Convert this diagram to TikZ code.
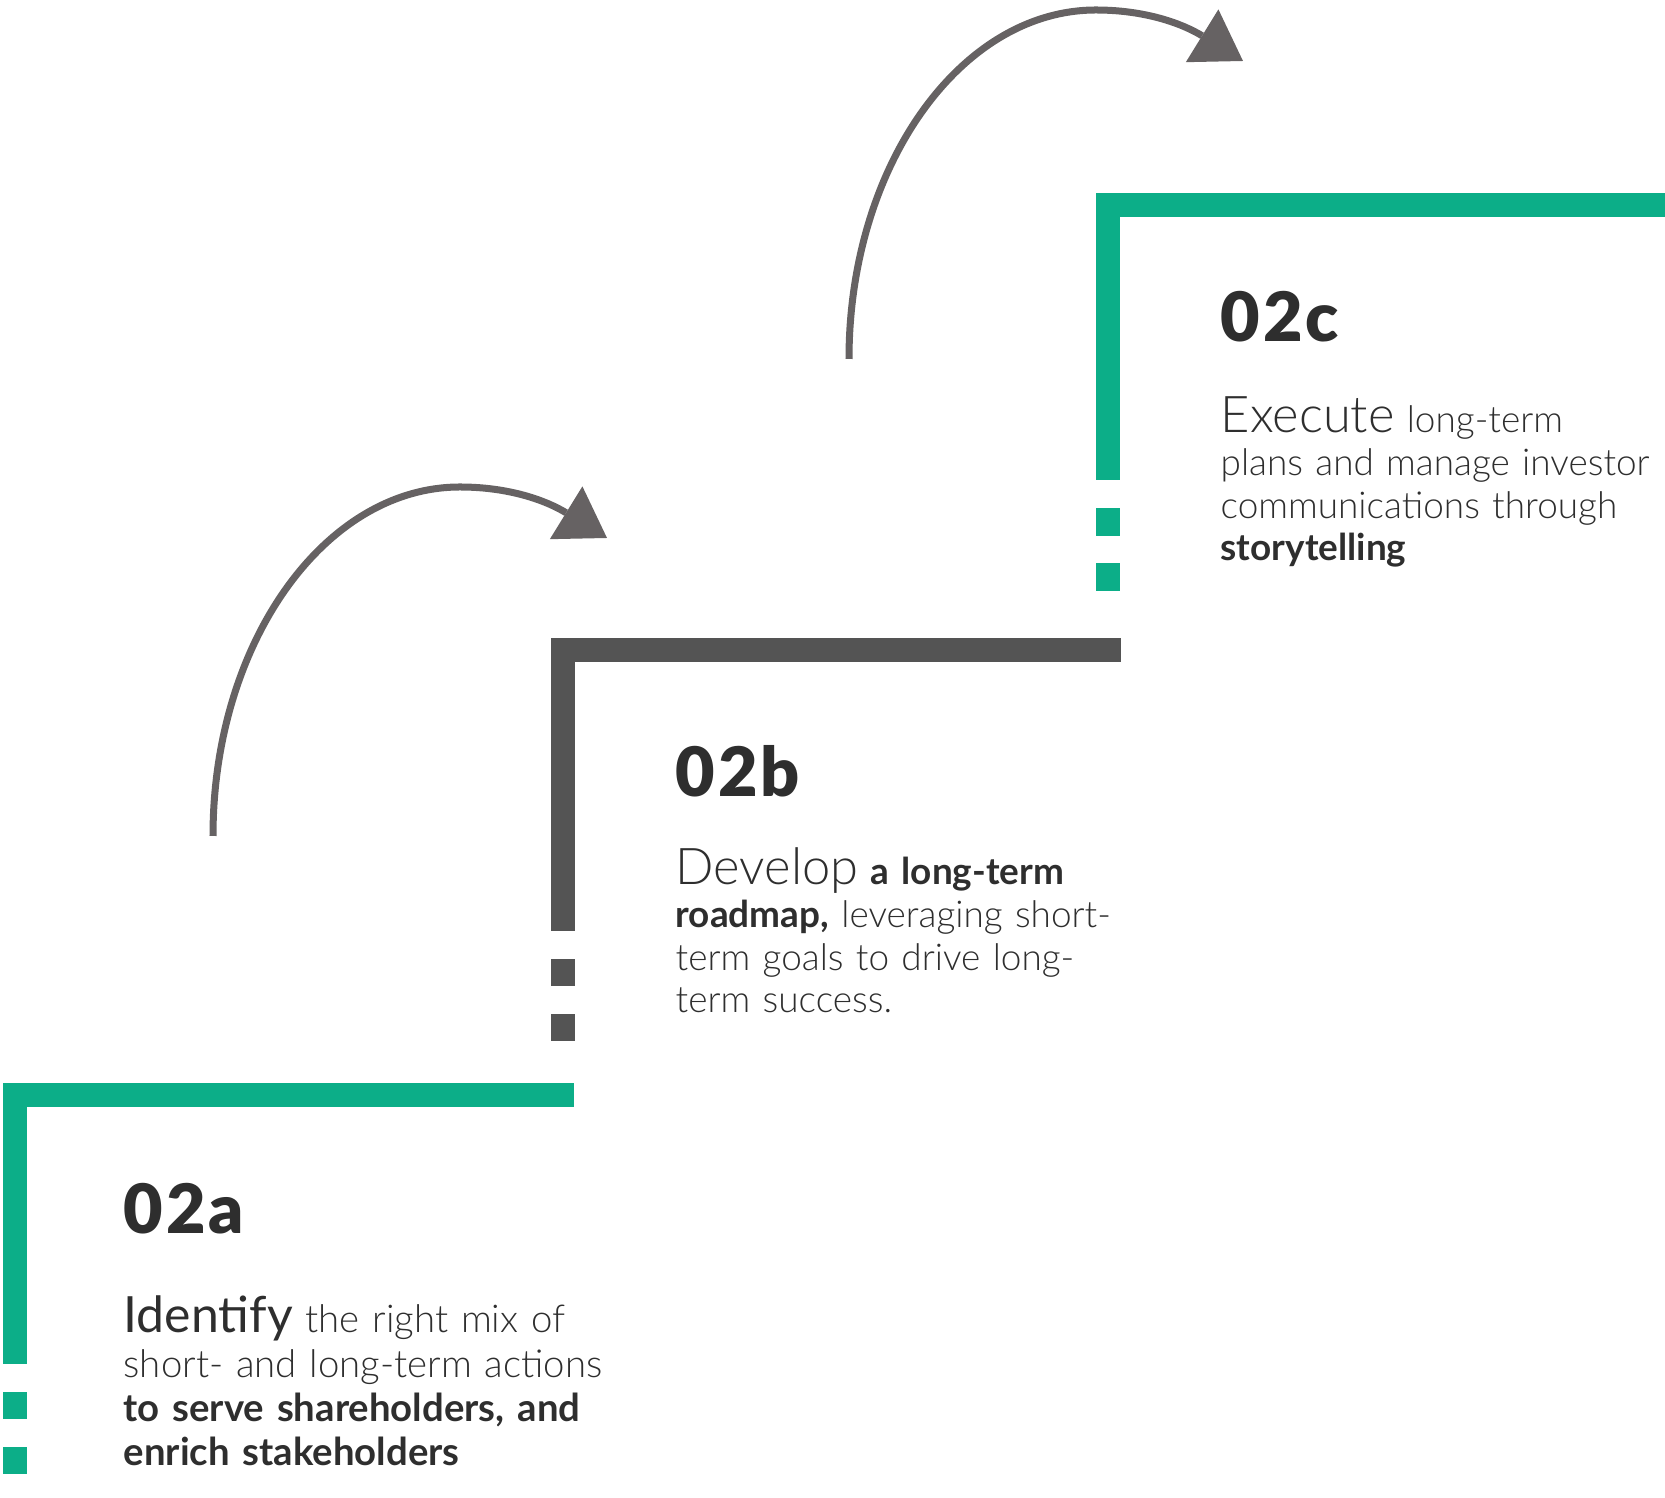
\documentclass[tikz,border=0pt]{standalone}
\usepackage{fontspec}
\setmainfont{Lato}[UprightFont={* Light}, BoldFont={* Bold}]
\newfontfamily\regfont{Lato}
\newfontfamily\titlefont{Lato Black}[LetterSpace=4]
\usetikzlibrary{arrows.meta}

\definecolor{stepgreen}{HTML}{0CAE88}
\definecolor{stepgray}{HTML}{545454}
\definecolor{arrowgray}{HTML}{666263}
\definecolor{inkgray}{HTML}{2E2E2E}

\newcommand{\stepverb}[1]{{\fontsize{14.4}{12}\selectfont #1}}

\tikzset{
  steptitle/.style={anchor=base west, inner sep=0pt, text=inkgray,
    font=\titlefont\fontsize{19.4}{19.4}\selectfont},
  steptext/.style={anchor=base west, inner sep=0pt, text=inkgray,
    text width=6cm, align=left, font=\fontsize{10.5}{12.1}\selectfont},
  bigtext/.style={steptext, font=\fontsize{10.9}{12.6}\selectfont},
  curvearrow/.style={draw=arrowgray, line width=0.07cm,
    -{Triangle[length=0.48cm, width=0.62cm, line width=0pt]}}
}

\begin{document}
\begin{tikzpicture}[x=0.01cm, y=-0.01cm]
    \useasboundingbox (0,0) rectangle (1665,1498);

    % Step a
    \fill[stepgreen] (3,1083) rectangle (574,1107);
    \fill[stepgreen] (3,1083) rectangle (27,1364);
    \fill[stepgreen] (3,1392) rectangle (27,1419);
    \fill[stepgreen] (3,1447) rectangle (27,1474);
    \node[steptitle] (titleA) at (123,1234) {02a};
    \node[bigtext] (textA) at (123,1333)
      {\regfont{\fontsize{14.2}{12}\selectfont Identify} \normalfont the right mix of\\
       short- and long-term actions\\
       \textbf{to serve shareholders, and}\\
       \textbf{enrich stakeholders}};

    % Step b
    \fill[stepgray] (551,638) rectangle (1121,662);
    \fill[stepgray] (551,638) rectangle (575,931);
    \fill[stepgray] (551,959) rectangle (575,986);
    \fill[stepgray] (551,1014) rectangle (575,1041);
    \node[steptitle] (titleB) at (675,797) {02b};
    \node[steptext] (textB) at (675,885)
      {\stepverb{Develop} \textbf{a long-term}\\
       \textbf{roadmap,} leveraging short-\\
       term goals to drive long-\\
       term success.};

    % Step c
    \fill[stepgreen] (1096,193) rectangle (1665,217);
    \fill[stepgreen] (1096,193) rectangle (1120,480);
    \fill[stepgreen] (1096,508) rectangle (1120,536);
    \fill[stepgreen] (1096,563) rectangle (1120,591);
    \node[steptitle] (titleC) at (1220,342) {02c};
    \node[steptext] (textC) at (1220,433)
      {\stepverb{Execute} long-term\\
       plans and manage investor\\
       communications through\\
       \textbf{storytelling}};

    % Arrows
    \coordinate (arrA-from) at (213,836);
    \coordinate (arrA-peak) at (460,487);
    \coordinate (arrA-to) at (607,538);
    \draw[curvearrow] (arrA-from) .. controls +(0,-192) and +(-136,0) .. (arrA-peak)
      .. controls +(50,0) and +(-60,-37) .. (arrA-to);

    \coordinate (arrB-from) at (849,359);
    \coordinate (arrB-peak) at (1096,10);
    \coordinate (arrB-to) at (1243,61);
    \draw[curvearrow] (arrB-from) .. controls +(0,-192) and +(-136,0) .. (arrB-peak)
      .. controls +(50,0) and +(-60,-37) .. (arrB-to);
\end{tikzpicture}
\end{document}
